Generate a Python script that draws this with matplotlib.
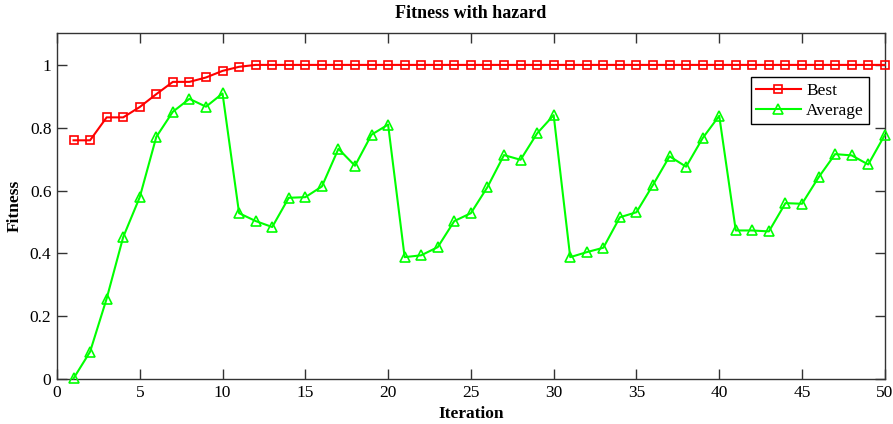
import numpy as np
import matplotlib
matplotlib.use("Agg")
import matplotlib.pyplot as plt

plt.rcParams['font.family'] = ['Liberation Serif', 'DejaVu Serif']

iteration = list(range(1, 51))
best = [0.76, 0.76, 0.833, 0.833, 0.866, 0.907, 0.946, 0.946, 0.96, 0.981,
        0.994] + [1.0] * 39
average = [0.002, 0.087, 0.256, 0.452, 0.579, 0.771, 0.851, 0.892, 0.867, 0.909,
           0.528, 0.503, 0.484, 0.577, 0.579, 0.613, 0.733, 0.679, 0.778, 0.810,
           0.388, 0.394, 0.420, 0.503, 0.528, 0.611, 0.713, 0.698, 0.782, 0.840,
           0.388, 0.404, 0.418, 0.515, 0.531, 0.618, 0.709, 0.676, 0.767, 0.838,
           0.473, 0.473, 0.470, 0.560, 0.558, 0.642, 0.716, 0.712, 0.683, 0.777]

fig = plt.figure(figsize=(8.93, 4.24), dpi=100)
ax = fig.add_axes([0.0638, 0.106, 0.927, 0.815])

ax.plot(iteration, best, '-s', color='#ff0000', lw=1.5, ms=6,
        mfc='none', mew=1.2, label='Best', clip_on=False, zorder=3)
ax.plot(iteration, average, '-^', color='#00ff00', lw=1.5, ms=6.5,
        mfc='none', mew=1.2, label='Average', clip_on=False, zorder=3)

ax.set_xlim(0, 50)
ax.set_ylim(0, 1.1)
ax.set_xticks(range(0, 51, 5))
ax.set_yticks([0, 0.2, 0.4, 0.6, 0.8, 1.0])
ax.set_yticklabels(['0', '0.2', '0.4', '0.6', '0.8', '1'])
ax.tick_params(direction='in', length=7, width=1, colors='#333333',
               labelcolor='black', labelsize=12.5, top=True, right=True, pad=4)
for s in ax.spines.values():
    s.set_color('#333333')
    s.set_linewidth(1)

ax.set_title('Fitness with hazard', fontsize=13, fontweight='bold', pad=11)
ax.set_xlabel('Iteration', fontsize=12.5, fontweight='bold', labelpad=4)
ax.set_ylabel('Fitness', fontsize=12.5, fontweight='bold', labelpad=5)

leg = ax.legend(loc='upper right', bbox_to_anchor=(0.981, 0.873), fontsize=12.5,
                fancybox=False, framealpha=1, edgecolor='black',
                borderpad=0.3, handlelength=2.6, handletextpad=0.3,
                labelspacing=0.25, borderaxespad=0)
leg.get_frame().set_linewidth(1)

fig.savefig('out.png', dpi=100)
